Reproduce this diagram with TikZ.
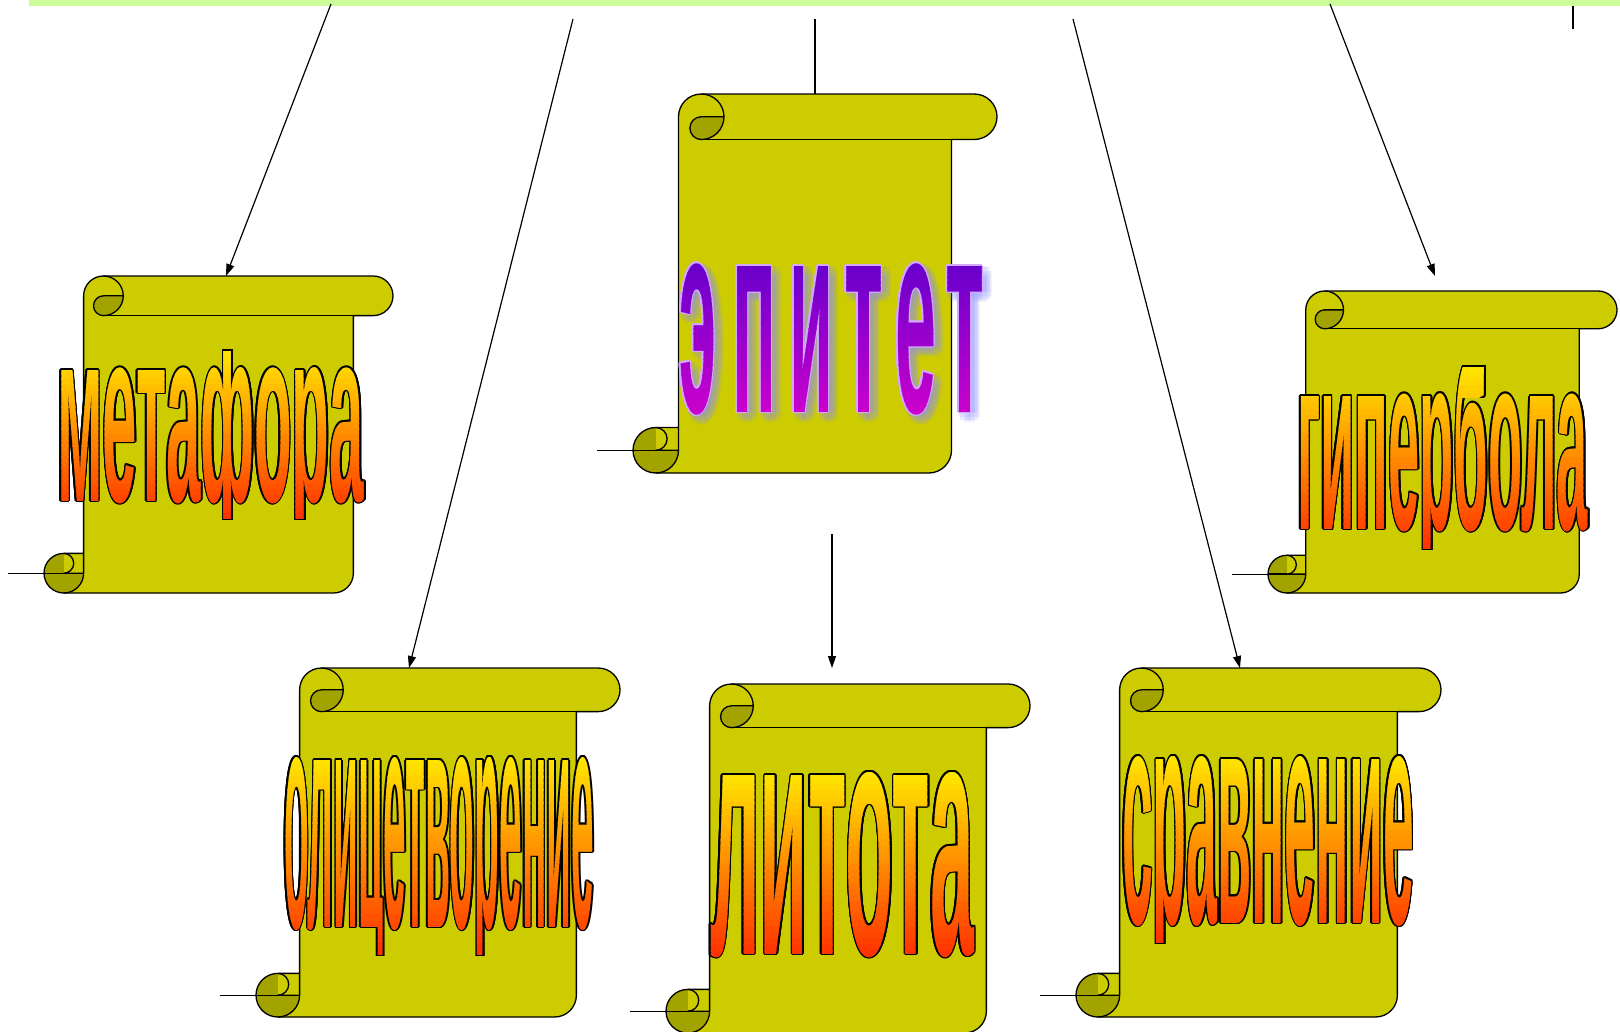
\documentclass[tikz,border=0pt]{standalone}
\usepackage{fontspec}
\usetikzlibrary{arrows.meta}
\newfontfamily\wafont{Liberation Sans}
\definecolor{scrollfill}{HTML}{CCCC00}
\definecolor{scrolldark}{HTML}{A3A300}
\definecolor{barcol}{HTML}{CCFF99}
\definecolor{oTop}{HTML}{FFE800}
\definecolor{oBot}{HTML}{FF3000}
\definecolor{pTop}{HTML}{6600CC}
\definecolor{pBot}{HTML}{CC00CC}
\definecolor{pRim}{HTML}{D2A8FF}
\definecolor{pGlow}{HTML}{8C8CFF}
\tikzset{
  scrollbody/.style={fill=scrollfill},
  scrollshade/.style={fill=scrolldark},
  scrollline/.style={draw=black, line width=1.3pt, line join=round},
  scrolltail/.style={draw=black, line width=0.7pt},
  conn/.style={draw=black, line width=1.2pt},
  arr/.style={conn, -{Triangle[length=12pt,width=8pt]}},
  waglyph/.style={anchor=base, inner sep=0pt, outer sep=0pt},
}
\newsavebox\wabox
\newsavebox\waxbox
\newsavebox\wapbox
\newsavebox\walbox
\newcommand\waText{}
\newcommand\waname{}
% name, text, xl, xr, x-height top, baseline, ink top clip, ink bottom clip
\newcommand\waSetup[8]{%
  \renewcommand\waname{#1}%
  \renewcommand\waText{\scalebox{\wasx}[\wasy]{\wafont\bfseries #2}}%
  \pgfinterruptpicture
    \global\setbox\wabox\hbox{\normalfont\wafont\bfseries #2}%
    \global\setbox\waxbox\hbox{\normalfont\wafont\bfseries x}%
  \endpgfinterruptpicture
  \edef\waW{\the\wd\wabox}\edef\waH{\the\ht\waxbox}%
  \pgfmathsetmacro\wasx{(#4-#3)/\waW}%
  \pgfmathsetmacro\wasy{(#6-#5)/\waH}%
  \pgfmathsetmacro\waxc{(#3+#4)/2}%
  \pgfmathsetmacro\wayb{#6}%
  \pgfmathsetmacro\waxl{#3-25}%
  \pgfmathsetmacro\waxr{#4+25}%
  \pgfmathsetmacro\waleft{#3}%
  \pgfmathsetmacro\watop{#7}%
  \pgfmathsetmacro\wabot{#8}%
}
\newcommand\waRim[3]{% color, radius, opacity
  \begin{scope}
  \clip (\waxl,\watop-#2-0.2) rectangle (\waxr,\wabot+#2+0.2);
  \foreach \waa in {0,30,...,330}{%
    \node[waglyph, text=#1, text opacity=#3] (\waname-r\waa) at ({\waxc+#2*cos(\waa)},{\wayb+#2*sin(\waa)}) {\waText};
  }%
  \end{scope}
}
\newcommand\waGlow[5]{% color, dx, dy, radius, opacity
  \foreach \waa in {0,45,...,315}{%
    \node[waglyph, text=#1, text opacity=#5] (\waname-g\waa) at ({\waxc+#2+#4*cos(\waa)},{\wayb+#3+#4*sin(\waa)}) {\waText};
  }%
}
\newcommand\waFill[2]{% top colour, bottom colour
  \foreach \wai in {0,...,29}{%
    \pgfmathsetmacro\waya{\watop+(\wabot-\watop)*\wai/30}%
    \pgfmathsetmacro\wayz{\watop+(\wabot-\watop)*(\wai+1)/30+0.4}%
    \pgfmathtruncatemacro\wapc{round(100-100*(\wai+0.5)/30)}%
    \begin{scope}
      \clip (\waxl,\waya) rectangle (\waxr,\wayz);
      \node[waglyph, text=#1!\wapc!#2] (\waname-f\wai) at (\waxc,\wayb) {\waText};
    \end{scope}
  }%
}
% patch for a letter whose ascender must be shortened: prefix, letter, target top, x-height top
\newcommand\waPatchSetup[4]{%
  \pgfinterruptpicture
    \global\setbox\wapbox\hbox{\normalfont\wafont\bfseries #1}%
    \global\setbox\walbox\hbox{\normalfont\wafont\bfseries #2}%
  \endpgfinterruptpicture
  \edef\waPW{\the\wd\wapbox}\edef\waLW{\the\wd\walbox}\edef\waLH{\the\ht\walbox}%
  \pgfmathsetmacro\wapx{\waleft+\waPW*\wasx-3}%
  \pgfmathsetmacro\wapxx{\waleft+(\waPW+\waLW)*\wasx+3}%
  \pgfmathsetmacro\wady{(\waLH-\waH)*\wasy-(#4-#3)}%
  \pgfmathsetmacro\wapyb{\wayb+\wady}%
  \pgfmathsetmacro\wapt{#3-2}%
  \pgfmathsetmacro\wapb{#4+1}%
}
\newcommand\waPatchRim[1]{%
  \begin{scope}
    \clip (\wapx,\wapt) rectangle (\wapxx,\wapb);
    \pgfmathsetmacro\wayb{\wapyb}%
    \renewcommand\waname{patch}%
    \waRim{#1}{1.6}{1}
  \end{scope}
}
\newcommand\waPatchFill[2]{%
  \begin{scope}
    \clip (\wapx,\wapt) rectangle (\wapxx,\wapb);
    \pgfmathsetmacro\wayb{\wapyb}%
    \renewcommand\waname{patchf}%
    \waFill{#1}{#2}
  \end{scope}
}
\newcommand\drawscroll[4]{% L T R B
  \pgfmathsetmacro\scL{#1}%
  \pgfmathsetmacro\scT{#2}%
  \pgfmathsetmacro\scR{#3}%
  \pgfmathsetmacro\scB{#4}%
  \pgfmathsetmacro\scA{0.125*min(#3-#1,#4-#2)}%
  \pgfmathsetmacro\scH{\scA/2}%
  \pgfmathsetmacro\scQ{\scA/4}%
  \path[scrollbody] (\scL+\scH,\scB) -- (\scR-\scA-\scH,\scB) arc[start angle=90,end angle=0,radius=\scH] -- (\scR-\scA,\scT+\scA) -- (\scR-\scH,\scT+\scA) arc[start angle=90,end angle=-90,radius=\scH] -- (\scL+\scA+\scH,\scT) arc[start angle=-90,end angle=-180,radius=\scH] -- (\scL+\scA,\scB-\scA) -- (\scL+\scH,\scB-\scA) arc[start angle=270,end angle=90,radius=\scH] -- cycle;
  \path[scrollshade] (\scL+\scA+\scH,\scT+\scH) -- (\scL+2*\scA,\scT+\scH) arc[start angle=0,end angle=90,radius=\scH] arc[start angle=90,end angle=270,radius=\scQ] -- cycle;
  \path[scrollshade] (\scL+\scH,\scB-\scH) -- (\scL+\scA,\scB-\scH) arc[start angle=0,end angle=270,radius=\scH] -- cycle;
  \path[scrolltail] (\scL-36,\scB-\scH) -- (\scL,\scB-\scH);
  \path[scrollline] (\scL+\scH,\scB) -- (\scR-\scA-\scH,\scB) arc[start angle=90,end angle=0,radius=\scH] -- (\scR-\scA,\scT+\scA) -- (\scR-\scH,\scT+\scA) arc[start angle=90,end angle=-90,radius=\scH] -- (\scL+\scA+\scH,\scT) arc[start angle=-90,end angle=-180,radius=\scH] -- (\scL+\scA,\scB-\scA) -- (\scL+\scH,\scB-\scA) arc[start angle=270,end angle=90,radius=\scH] -- cycle;
  \path[scrollline] (\scL+\scA+\scH,\scT+\scA) -- (\scR-\scA,\scT+\scA);
  \path[scrollline] (\scL+\scA+\scH,\scT) arc[start angle=-90,end angle=90,radius=\scH] arc[start angle=90,end angle=270,radius=\scQ] -- (\scL+2*\scA,\scT+\scH);
  \path[scrollline] (\scL+\scA,\scB-\scA) -- (\scL+\scA,\scB-\scH) arc[start angle=0,end angle=90,radius=\scH];
  \path[scrollline] (\scL+\scH,\scB-\scA) arc[start angle=-90,end angle=90,radius=\scQ] -- (\scL+\scA,\scB-\scH);
  \path[scrollline] (\scL,\scB-\scH) -- (\scL+\scH,\scB-\scH);
}
\begin{document}
\begin{tikzpicture}[x=1pt,y=-1pt]
\useasboundingbox (0,0) rectangle (1620,1031);
\fill[white] (0,0) rectangle (1620,1031);
\fill[barcol] (29,0) rectangle (1620,6);
% connector ends
\coordinate (c1s) at (331,4);
\coordinate (metaTop) at (226,276);
\coordinate (c2s) at (573,19);
\coordinate (olicTop) at (409,668);
\coordinate (c3s) at (815,19);
\coordinate (epiTop) at (815,94);
\coordinate (c4s) at (1073,19);
\coordinate (sravTop) at (1240,668);
\coordinate (c5s) at (1330,4);
\coordinate (hypEnd) at (1435,276);
\coordinate (c6s) at (832,534);
\coordinate (litEnd) at (832,668);
\coordinate (c7s) at (1573,6);
\coordinate (c7e) at (1573,29);
\draw[arr] (c1s) -- (metaTop);
\draw[arr] (c2s) -- (olicTop);
\draw[conn] (c3s) -- (epiTop);
\draw[arr] (c4s) -- (sravTop);
\draw[arr] (c5s) -- (hypEnd);
\draw[arr] (c6s) -- (litEnd);
\draw[conn] (c7s) -- (c7e);
% scrolls
\drawscroll{44}{276}{393}{593}
\drawscroll{633}{94}{997}{473}
\drawscroll{1268}{291}{1617}{593}
\drawscroll{256}{668}{620}{1017}
\drawscroll{666}{684}{1030}{1033}
\drawscroll{1076}{668}{1441}{1017}
% words
\waSetup{meta}{метафора}{57}{364}{370}{501}{351}{518}
\waRim{black}{1.6}{1}
\waFill{oTop}{oBot}
\waSetup{hyp}{гипербола}{1297}{1588}{396}{529}{367}{548}
\waPatchSetup{гипер}{б}{367}{396}
\waRim{black}{1.6}{1}
\waPatchRim{black}
\waFill{oTop}{oBot}
\waPatchFill{oTop}{oBot}
\waSetup{olic}{олицетворение}{284}{594}{760}{927}{757}{954}
\waRim{black}{1.6}{1}
\waFill{oTop}{oBot}
\waSetup{lit}{литота}{710}{974}{775}{954}{772}{957}
\waRim{black}{1.6}{1}
\waFill{oTop}{oBot}
\waSetup{srav}{сравнение}{1122}{1414}{759}{923}{756}{942}
\waRim{black}{1.6}{1}
\waFill{oTop}{oBot}
% epithet letters
\waSetup{e1}{э}{679}{716}{266}{412}{262}{416}
\waGlow{pGlow}{5}{5}{5}{0.16}
\waRim{pRim}{1.6}{1}
\waFill{pTop}{pBot}
\waSetup{e2}{п}{732}{776}{266}{412}{262}{416}
\waGlow{pGlow}{5}{5}{5}{0.16}
\waRim{pRim}{1.6}{1}
\waFill{pTop}{pBot}
\waSetup{e3}{и}{789}{833}{266}{412}{262}{416}
\waGlow{pGlow}{5}{5}{5}{0.16}
\waRim{pRim}{1.6}{1}
\waFill{pTop}{pBot}
\waSetup{e4}{т}{844}{883}{266}{412}{262}{416}
\waGlow{pGlow}{5}{5}{5}{0.16}
\waRim{pRim}{1.6}{1}
\waFill{pTop}{pBot}
\waSetup{e5}{е}{895}{936}{266}{412}{262}{416}
\waGlow{pGlow}{5}{5}{5}{0.16}
\waRim{pRim}{1.6}{1}
\waFill{pTop}{pBot}
\waSetup{e6}{т}{945}{984}{266}{412}{262}{416}
\waGlow{pGlow}{5}{5}{5}{0.16}
\waRim{pRim}{1.6}{1}
\waFill{pTop}{pBot}
\end{tikzpicture}
\end{document}
